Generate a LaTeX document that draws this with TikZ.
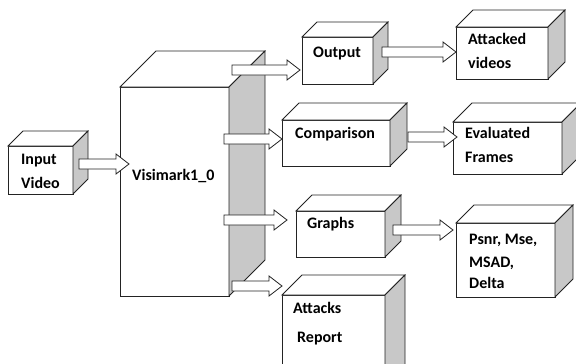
\documentclass[tikz,border=0pt]{standalone}
\usepackage{fontspec}
\setmainfont{Carlito}
\usetikzlibrary{calc}
\definecolor{sideface}{RGB}{200,200,200}
\definecolor{edge}{RGB}{35,35,35}
\tikzset{
  face/.style={draw=edge, line width=0.8pt, line join=miter},
  frontface/.style={face, fill=white, rectangle, inner sep=0pt, outer sep=0pt, anchor=north west},
  txt/.style={anchor=base west, inner sep=0pt, font=\bfseries\fontsize{16}{18}\selectfont}
}
% a box drawn as a cube: front face node plus top and shaded right face
\newcommand\cubebox[6]{% name, left, top, width, height, depth
  \node[frontface, minimum width=#4pt, minimum height=#5pt] (#1) at (#2,#3) {};
  \draw[face, fill=white] (#1.north west) -- ([shift={(#6,-#6)}]#1.north west)
     -- ([shift={(#6,-#6)}]#1.north east) -- (#1.north east) -- cycle;
  \draw[face, fill=sideface] (#1.north east) -- ([shift={(#6,-#6)}]#1.north east)
     -- ([shift={(#6,-#6)}]#1.south east) -- (#1.south east) -- cycle;
}
% hollow block arrow from a tail point to a tip point on the same level
\newcommand\blockarrow[2]{%
  \path #1 coordinate (bt) #2 coordinate (bh);
  \draw[face, fill=white] ($(bt)+(0,-5)$) -- ($(bh)+(-13,-5)$) -- ($(bh)+(-13,-10)$)
     -- (bh) -- ($(bh)+(-13,10)$) -- ($(bh)+(-13,5)$) -- ($(bt)+(0,5)$) -- cycle;
}
\begin{document}
\begin{tikzpicture}[x=1pt, y=-1pt]
  \useasboundingbox (0,0) rectangle (576,364);
  \clip (0,0) rectangle (576,364);

  % main block and input
  \cubebox{vis}{120}{87}{109}{209}{36}
  \cubebox{inp}{8}{146}{65}{48}{15}

  % second column
  \cubebox{out}{302}{37}{71}{47}{15}
  \cubebox{cmp}{282}{120}{108}{46}{17}
  \cubebox{gra}{296}{211}{89}{46}{16}
  \cubebox{rep}{282}{295}{103}{110}{20}

  % third column
  \cubebox{att}{456}{27}{92}{52}{17}
  \cubebox{evl}{453}{122}{109}{52}{19}
  \cubebox{psn}{456}{223}{99}{74}{18}

  % arrows into and out of the main block
  \blockarrow{([xshift=6pt]inp.east |- 0,164)}{([xshift=9pt]vis.west |- 0,164)}
  \blockarrow{([xshift=3pt]vis.east |- 0,70)}{([xshift=-2pt]out.west |- 0,70)}
  \blockarrow{([xshift=-5pt]vis.east |- 0,139)}{(cmp.west |- 0,139)}
  \blockarrow{([xshift=-5pt]vis.east |- 0,220)}{([xshift=-9pt]gra.west |- 0,220)}
  \blockarrow{([xshift=3pt]vis.east |- 0,286)}{(rep.west |- 0,286)}

  % arrows to the third column
  \blockarrow{([xshift=9pt]out.east |- 0,52)}{(att.west |- 0,52)}
  \blockarrow{([xshift=18pt]cmp.east |- 0,137)}{([xshift=4pt]evl.west |- 0,137)}
  \blockarrow{([xshift=8pt]gra.east |- 0,230)}{([xshift=-3pt]psn.west |- 0,230)}

  % texts
  \node[txt] (tinp1) at (21,164) {Input};
  \node[txt] (tinp2) at (21,188) {Video};
  \node[txt] (tvis) at (132,180) {Visimark1\_0};
  \node[txt] (tout) at (313,57) {Output};
  \node[txt] (tatt1) at (468,45) {Attacked};
  \node[txt] (tatt2) at (468,68) {videos};
  \node[txt] (tcmp) at (295,138) {Comparison};
  \node[txt] (tevl1) at (465,138) {Evaluated};
  \node[txt] (tevl2) at (465,162) {Frames};
  \node[txt] (tgra) at (307,228) {Graphs};
  \node[txt] (tpsn1) at (469,244) {Psnr, Mse,};
  \node[txt] (tpsn2) at (469,267) {MSAD,};
  \node[txt] (tpsn3) at (469,288) {Delta};
  \node[txt] (trep1) at (293,313) {Attacks};
  \node[txt] (trep2) at (297,342) {Report};
\end{tikzpicture}
\end{document}
